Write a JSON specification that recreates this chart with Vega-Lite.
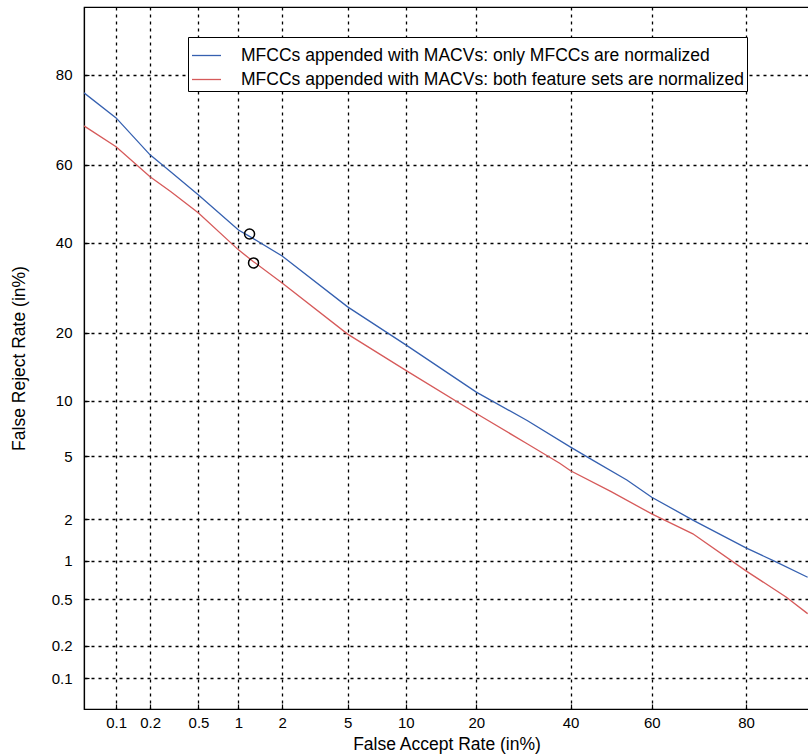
{
  "$schema": "https://vega.github.io/schema/vega-lite/v6.json",
  "autosize": {"type": "none"},
  "width": 725,
  "height": 702,
  "padding": {"left": 84, "top": 7, "right": 0, "bottom": 47},
  "background": "white",
  "config": {
    "font": "Liberation Sans",
    "view": {"stroke": "black", "strokeWidth": 1.2},
    "axis": {
      "grid": true,
      "gridColor": "black",
      "gridDash": [3, 4],
      "gridOpacity": 1,
      "gridWidth": 1.3,
      "domainColor": "black",
      "domainWidth": 1.2,
      "tickColor": "black",
      "tickSize": -5,
      "tickWidth": 1.2,
      "labelColor": "black",
      "titleColor": "black",
      "labelFontSize": 15,
      "titleFontSize": 17.5,
      "titleFontWeight": "normal",
      "labelFont": "Liberation Sans",
      "titleFont": "Liberation Sans"
    }
  },
  "datasets": {
    "curves": [
      {"series": "MFCCs appended with MACVs: only MFCCs are normalized", "far": 0.05, "frr": 76.5},
      {"series": "MFCCs appended with MACVs: only MFCCs are normalized", "far": 0.1, "frr": 71.2},
      {"series": "MFCCs appended with MACVs: only MFCCs are normalized", "far": 0.2, "frr": 62.5},
      {"series": "MFCCs appended with MACVs: only MFCCs are normalized", "far": 0.3, "frr": 58.2},
      {"series": "MFCCs appended with MACVs: only MFCCs are normalized", "far": 0.5, "frr": 52.3},
      {"series": "MFCCs appended with MACVs: only MFCCs are normalized", "far": 1, "frr": 43.2},
      {"series": "MFCCs appended with MACVs: only MFCCs are normalized", "far": 1.2, "frr": 41.6},
      {"series": "MFCCs appended with MACVs: only MFCCs are normalized", "far": 2, "frr": 36.7},
      {"series": "MFCCs appended with MACVs: only MFCCs are normalized", "far": 5, "frr": 25.1},
      {"series": "MFCCs appended with MACVs: only MFCCs are normalized", "far": 10, "frr": 17.9},
      {"series": "MFCCs appended with MACVs: only MFCCs are normalized", "far": 20, "frr": 11.0},
      {"series": "MFCCs appended with MACVs: only MFCCs are normalized", "far": 30, "frr": 7.9},
      {"series": "MFCCs appended with MACVs: only MFCCs are normalized", "far": 40, "frr": 5.65},
      {"series": "MFCCs appended with MACVs: only MFCCs are normalized", "far": 45.4, "frr": 4.75},
      {"series": "MFCCs appended with MACVs: only MFCCs are normalized", "far": 53.9, "frr": 3.6},
      {"series": "MFCCs appended with MACVs: only MFCCs are normalized", "far": 60, "frr": 2.8},
      {"series": "MFCCs appended with MACVs: only MFCCs are normalized", "far": 69.5, "frr": 1.97},
      {"series": "MFCCs appended with MACVs: only MFCCs are normalized", "far": 80, "frr": 1.25},
      {"series": "MFCCs appended with MACVs: only MFCCs are normalized", "far": 84.9, "frr": 0.98},
      {"series": "MFCCs appended with MACVs: only MFCCs are normalized", "far": 89, "frr": 0.75},
      {"series": "MFCCs appended with MACVs: both feature sets are normalized", "far": 0.05, "frr": 69.4},
      {"series": "MFCCs appended with MACVs: both feature sets are normalized", "far": 0.1, "frr": 64.5},
      {"series": "MFCCs appended with MACVs: both feature sets are normalized", "far": 0.2, "frr": 57.0},
      {"series": "MFCCs appended with MACVs: both feature sets are normalized", "far": 0.3, "frr": 53.1},
      {"series": "MFCCs appended with MACVs: both feature sets are normalized", "far": 0.5, "frr": 47.6},
      {"series": "MFCCs appended with MACVs: both feature sets are normalized", "far": 1, "frr": 38.2},
      {"series": "MFCCs appended with MACVs: both feature sets are normalized", "far": 1.28, "frr": 35.3},
      {"series": "MFCCs appended with MACVs: both feature sets are normalized", "far": 2, "frr": 30.3},
      {"series": "MFCCs appended with MACVs: both feature sets are normalized", "far": 5, "frr": 19.8},
      {"series": "MFCCs appended with MACVs: both feature sets are normalized", "far": 10, "frr": 13.9},
      {"series": "MFCCs appended with MACVs: both feature sets are normalized", "far": 20, "frr": 8.6},
      {"series": "MFCCs appended with MACVs: both feature sets are normalized", "far": 30, "frr": 5.9},
      {"series": "MFCCs appended with MACVs: both feature sets are normalized", "far": 37.4, "frr": 4.55},
      {"series": "MFCCs appended with MACVs: both feature sets are normalized", "far": 40, "frr": 4.1},
      {"series": "MFCCs appended with MACVs: both feature sets are normalized", "far": 50, "frr": 3.04},
      {"series": "MFCCs appended with MACVs: both feature sets are normalized", "far": 60, "frr": 2.17},
      {"series": "MFCCs appended with MACVs: both feature sets are normalized", "far": 69.5, "frr": 1.58},
      {"series": "MFCCs appended with MACVs: both feature sets are normalized", "far": 80, "frr": 0.84},
      {"series": "MFCCs appended with MACVs: both feature sets are normalized", "far": 86.3, "frr": 0.52},
      {"series": "MFCCs appended with MACVs: both feature sets are normalized", "far": 89, "frr": 0.38}
    ],
    "marked": [
      {"far": 1.2, "frr": 42.2},
      {"far": 1.28, "frr": 35.0}
    ]
  },
  "layer": [
    {
      "data": {"name": "curves"},
      "transform": [
        {"calculate": "quantileNormal(datum.far / 100)", "as": "xp"},
        {"calculate": "quantileNormal(datum.frr / 100)", "as": "yp"}
      ],
      "mark": {"type": "line", "strokeWidth": 1.3, "clip": true},
      "encoding": {
        "x": {
          "field": "xp", "type": "quantitative",
          "scale": {"domain": [-3.2905, 1.235], "nice": false, "zero": false},
          "axis": {
            "title": "False Accept Rate (in%)",
            "values": [-3.090232, -2.878162, -2.575829, -2.326348, -2.053749, -1.644854, -1.281552, -0.841621, -0.253347, 0.253347, 0.841621],
            "labelExpr": "format(cumulativeNormal(datum.value) * 100, '.1~f')",
            "labelPadding": 11,
            "titlePadding": 5
          }
        },
        "y": {
          "field": "yp", "type": "quantitative",
          "scale": {"domain": [-3.2905, 1.2816], "nice": false, "zero": false},
          "axis": {
            "title": "False Reject Rate (in%)",
            "values": [-3.090232, -2.878162, -2.575829, -2.326348, -2.053749, -1.644854, -1.281552, -0.841621, -0.253347, 0.253347, 0.841621],
            "labelExpr": "format(cumulativeNormal(datum.value) * 100, '.1~f')",
            "labelPadding": 17,
            "titlePadding": 23
          }
        },
        "color": {
          "field": "series", "type": "nominal",
          "scale": {
            "domain": ["MFCCs appended with MACVs: only MFCCs are normalized", "MFCCs appended with MACVs: both feature sets are normalized"],
            "range": ["#3560b0", "#d65a5a"]
          },
          "legend": {
            "title": null,
            "orient": "none",
            "legendX": 104,
            "legendY": 30,
            "symbolType": "stroke",
            "symbolSize": 841,
            "symbolStrokeWidth": 1.3,
            "labelFontSize": 17.5,
            "labelColor": "black",
            "labelLimit": 700,
            "labelOffset": 19,
            "rowPadding": -7,
            "padding": 3,
            "strokeColor": "black",
            "fillColor": "white"
          }
        },
        "order": {"field": "far", "type": "quantitative"}
      }
    },
    {
      "data": {"name": "marked"},
      "transform": [
        {"calculate": "quantileNormal(datum.far / 100)", "as": "xp"},
        {"calculate": "quantileNormal(datum.frr / 100)", "as": "yp"}
      ],
      "mark": {"type": "point", "shape": "circle", "filled": false, "color": "black", "size": 100, "strokeWidth": 1.5, "opacity": 1},
      "encoding": {
        "x": {"field": "xp", "type": "quantitative"},
        "y": {"field": "yp", "type": "quantitative"}
      }
    }
  ]
}
